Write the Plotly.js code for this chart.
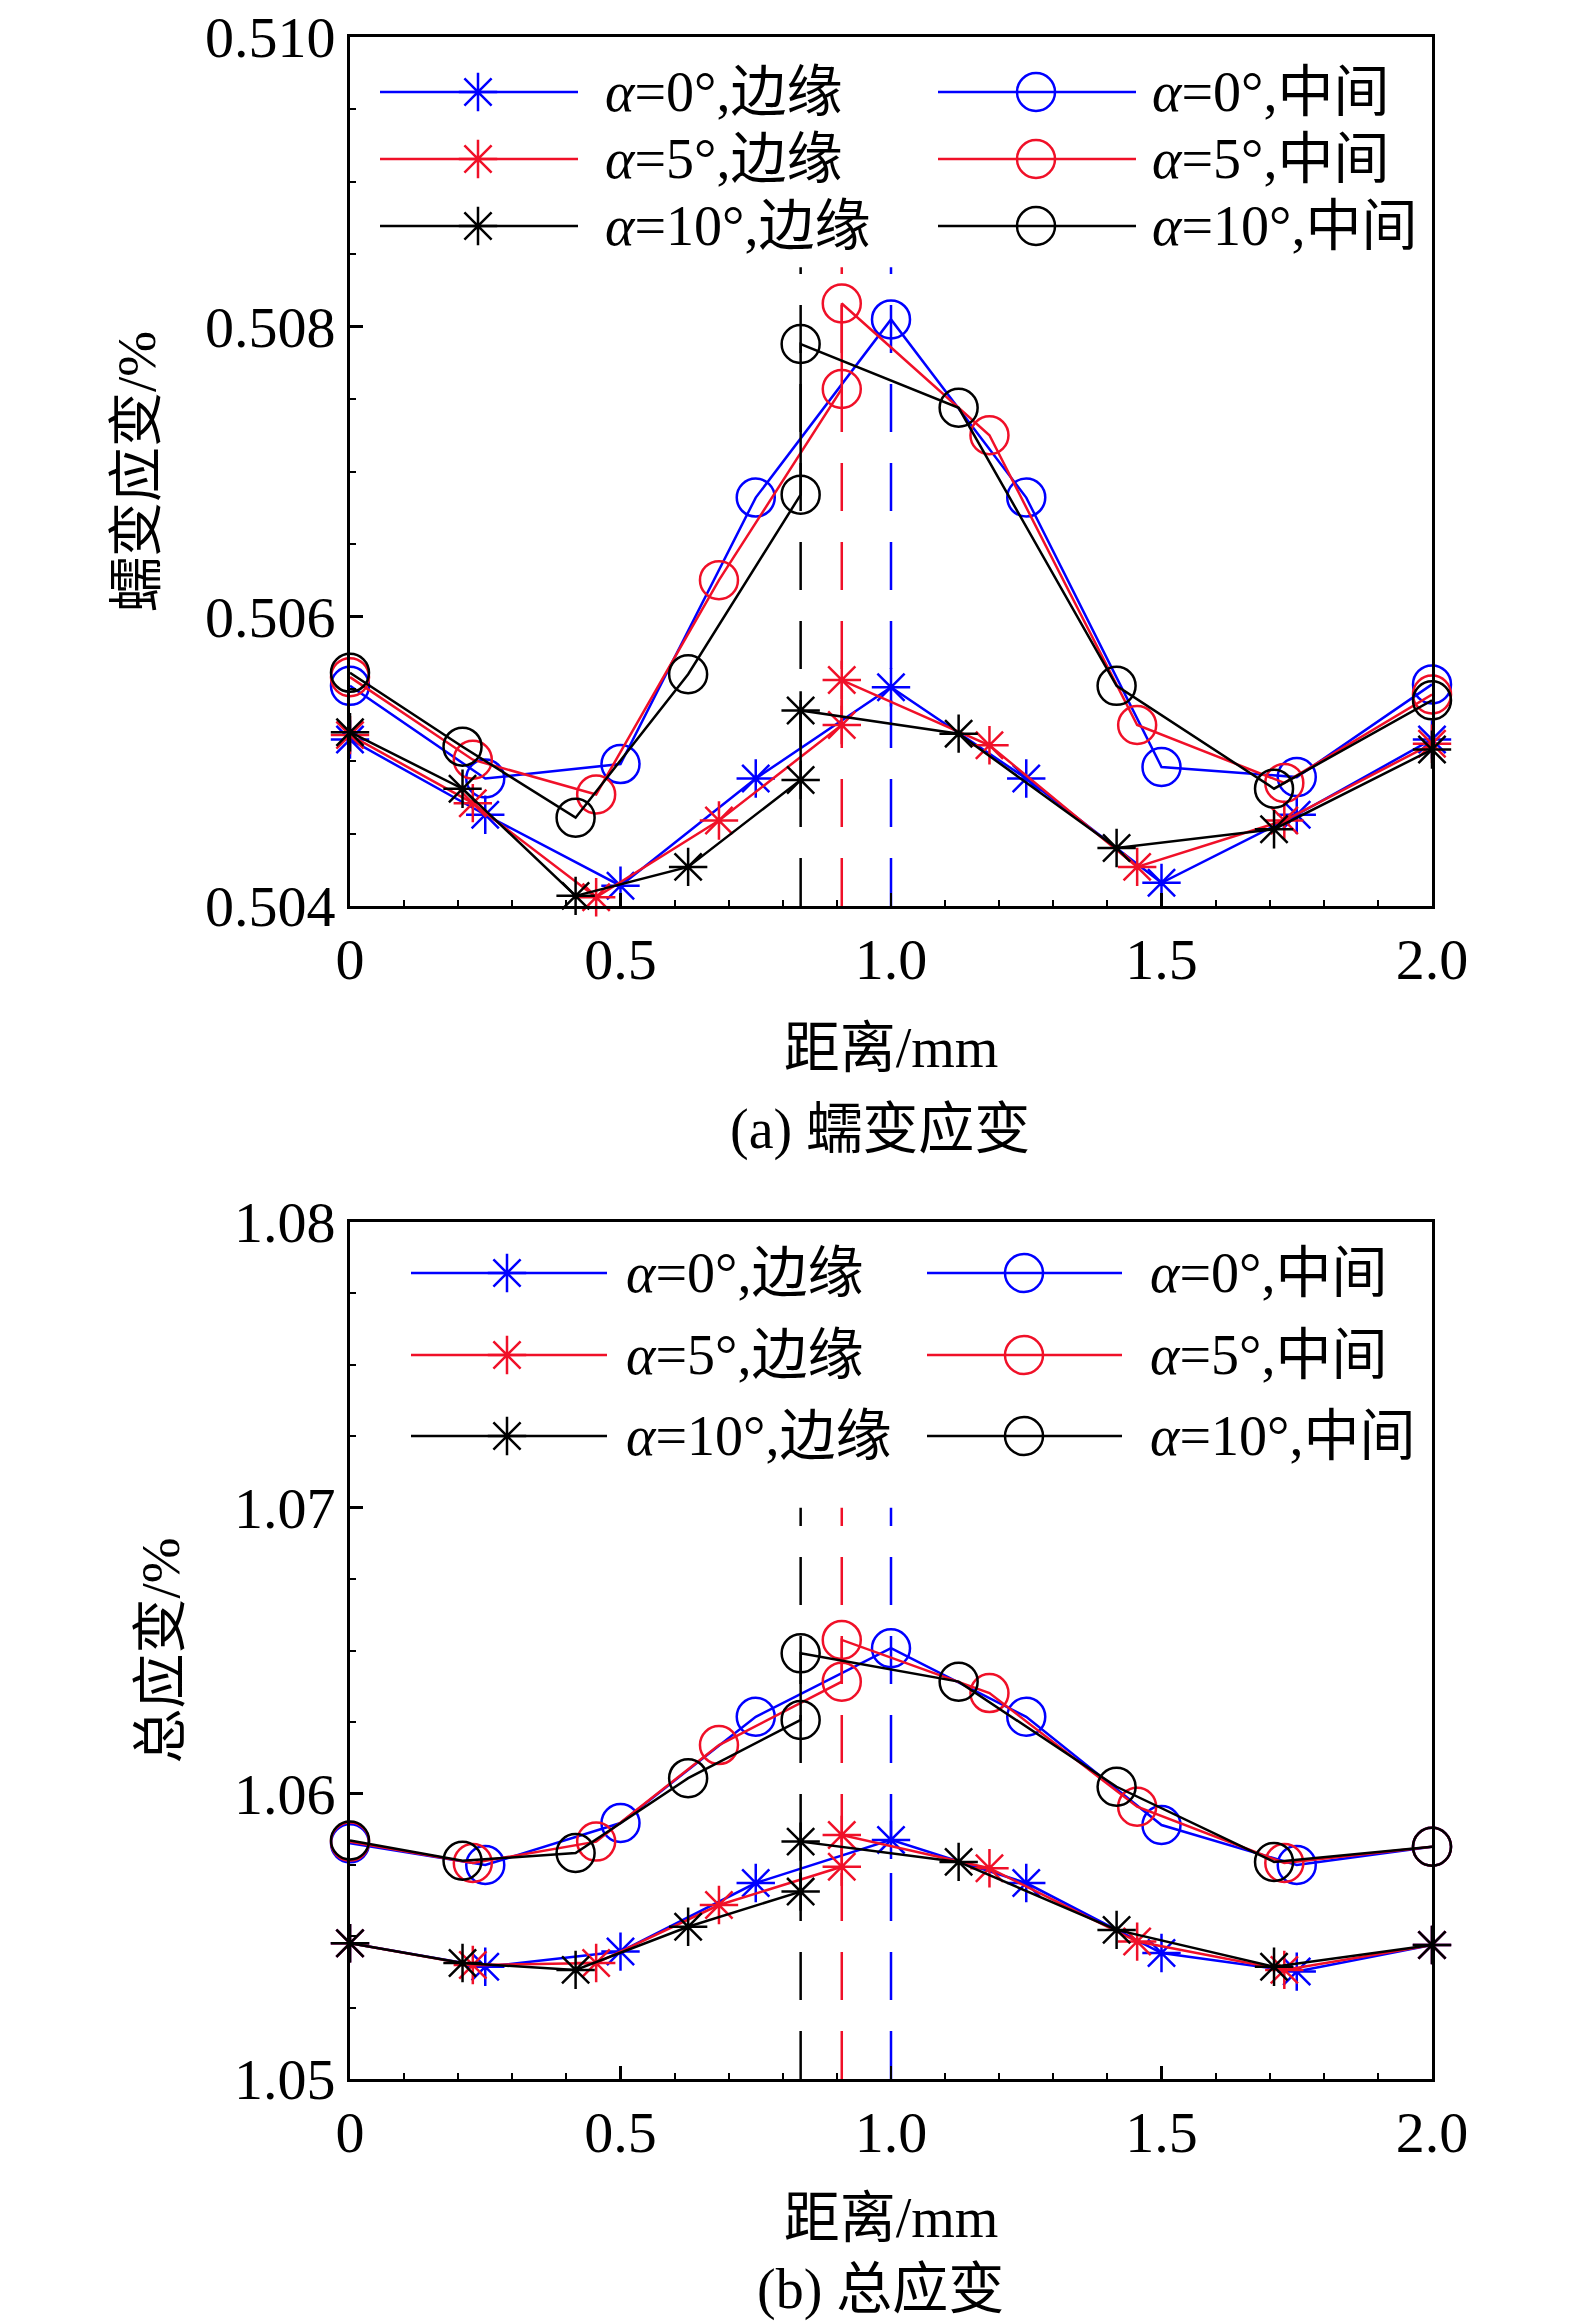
<!DOCTYPE html>
<html>
<head>
<meta charset="utf-8">
<script src="https://cdn.plot.ly/plotly-3.0.1.min.js"></script>
<style>
  html, body { margin: 0; padding: 0; background: #ffffff; }
  #chart { width: 1575px; height: 2324px; }
</style>
</head>
<body>
<div id="chart"></div>
<script>
// x positions of the sampling points for each angle
var x0 = [0, 0.25, 0.5, 0.75, 1.0, 1.25, 1.5, 1.75, 2.0];
var x5 = [0, 0.227, 0.455, 0.682, 0.909, 0.909, 1.182, 1.455, 1.727, 2.0];
var x10 = [0, 0.208, 0.417, 0.625, 0.833, 0.833, 1.125, 1.417, 1.708, 2.0];

// (a) creep strain, %
var creepEdge0 = [0.50515, 0.50463, 0.50414, 0.50488, 0.50551, 0.50488, 0.50416, 0.50463, 0.50515];
var creepMid0 = [0.50552, 0.50488, 0.50498, 0.50682, 0.50805, 0.50682, 0.50496, 0.50489, 0.50553];
var creepEdge5 = [0.50518, 0.50471, 0.50406, 0.50459, 0.50525, 0.50556, 0.50511, 0.50427, 0.50459, 0.50512];
var creepMid5 = [0.50558, 0.50501, 0.50477, 0.50625, 0.50757, 0.50816, 0.50725, 0.50525, 0.50485, 0.50546];
var creepEdge10 = [0.5052, 0.50481, 0.50407, 0.50427, 0.50487, 0.50535, 0.50519, 0.5044, 0.50453, 0.50508];
var creepMid10 = [0.50561, 0.5051, 0.50461, 0.5056, 0.50684, 0.50788, 0.50744, 0.50552, 0.50481, 0.50542];

// (b) total strain, %
var totalEdge0 = [1.05475, 1.05393, 1.05446, 1.05686, 1.05837, 1.05686, 1.05441, 1.05376, 1.05469];
var totalMid0 = [1.05825, 1.05749, 1.05896, 1.06268, 1.06508, 1.06268, 1.05889, 1.05749, 1.05813];
var totalEdge5 = [1.05475, 1.05399, 1.05406, 1.05609, 1.05743, 1.05854, 1.05738, 1.05481, 1.05382, 1.05469];
var totalMid5 = [1.05831, 1.05756, 1.05831, 1.06169, 1.06391, 1.06537, 1.06351, 1.05953, 1.05756, 1.05813];
var totalEdge10 = [1.05475, 1.05406, 1.05382, 1.05533, 1.05656, 1.05831, 1.0576, 1.05522, 1.05393, 1.05469];
var totalMid10 = [1.05835, 1.05764, 1.05791, 1.06053, 1.06257, 1.0649, 1.06391, 1.06023, 1.0576, 1.05813];

// dashed marker lines at the peak positions
var peakX = [0.833, 0.909, 1.0];
var peakCreepY = [0.504, 0.50841];
var peakTotalY = [1.05, 1.07];

var xTickVals = [0, 0.5, 1.0, 1.5, 2.0];
var xTickText = ['0', '0.5', '1.0', '1.5', '2.0'];
var creepTicks = [0.504, 0.506, 0.508, 0.510];
var totalTicks = [1.05, 1.06, 1.07, 1.08];

var angleNames = ['<i>α</i>=0°', '<i>α</i>=5°', '<i>α</i>=10°'];
var edgeName = ',边缘';
var midName = ',中间';

var blue = '#0000ff';
var red = '#f01028';
var black = '#000000';
var angleColors = [blue, red, black];

var FONT = 'Liberation Serif, Times New Roman, Noto Sans CJK SC, serif';
var W = 1575, H = 2324;
var M = {l: 350, r: 143, t: 37, b: 245};
var plotW = W - M.l - M.r, plotH = H - M.t - M.b;
function px2x(p) { return (p - M.l) / plotW; }
function px2y(p) { return (H - M.b - p) / plotH; }

var STAR = 32, RING = 38;

function series(x, y, name, color, symbol, xa, ya) {
  return {
    x: x, y: y, name: name,
    xaxis: xa, yaxis: ya, showlegend: false,
    type: 'scatter', mode: 'lines+markers',
    cliponaxis: false,
    line: {color: color, width: 2.5},
    marker: {symbol: symbol, size: symbol === 'circle-open' ? RING : STAR,
             color: color, line: {color: color, width: 2.5}}
  };
}

function peakLine(px, py, color, xa, ya) {
  return {
    x: [px, px], y: py, xaxis: xa, yaxis: ya,
    type: 'scatter', mode: 'lines', showlegend: false, hoverinfo: 'skip',
    line: {color: color, width: 2.5, dash: '48px,31px'}
  };
}

var data = [];
var peakColors = [black, red, blue];
for (let i = 0; i < peakX.length; i++) {
  data.push(peakLine(peakX[i], peakCreepY, peakColors[i], 'x', 'y'));
  data.push(peakLine(peakX[i], peakTotalY, peakColors[i], 'x2', 'y2'));
}

var creepEdge = [creepEdge0, creepEdge5, creepEdge10];
var creepMid = [creepMid0, creepMid5, creepMid10];
var totalEdge = [totalEdge0, totalEdge5, totalEdge10];
var totalMid = [totalMid0, totalMid5, totalMid10];
var xs = [x0, x5, x10];

for (let i = 0; i < 3; i++) {
  data.push(series(xs[i], creepEdge[i], angleNames[i] + edgeName, angleColors[i], 'asterisk-open', 'x', 'y'));
  data.push(series(xs[i], creepMid[i], angleNames[i] + midName, angleColors[i], 'circle-open', 'x', 'y'));
  data.push(series(xs[i], totalEdge[i], angleNames[i] + edgeName, angleColors[i], 'asterisk-open', 'x2', 'y2'));
  data.push(series(xs[i], totalMid[i], angleNames[i] + midName, angleColors[i], 'circle-open', 'x2', 'y2'));
}

// hand-drawn legend: long sample line, large marker, label
var shapes = [];
var annotations = [];
function asteriskPath(size) {
  var rs = size * 0.6, rt = size * 0.425;
  return 'M0,' + rs + 'V' + (-rs) + 'M' + rs + ',0H' + (-rs) +
         'M' + rt + ',' + rt + 'L' + (-rt) + ',' + (-rt) +
         'M' + rt + ',' + (-rt) + 'L' + (-rt) + ',' + rt;
}
function legendItem(lineX0, lineX1, markX, textX, rowY, color, symbol, label) {
  shapes.push({type: 'line', xref: 'paper', yref: 'paper',
    x0: px2x(lineX0), x1: px2x(lineX1), y0: px2y(rowY), y1: px2y(rowY),
    line: {color: color, width: 2.5}});
  if (symbol === 'circle') {
    shapes.push({type: 'circle', xref: 'paper', yref: 'paper',
      xsizemode: 'pixel', ysizemode: 'pixel', xanchor: px2x(markX), yanchor: px2y(rowY),
      x0: -RING / 2, x1: RING / 2, y0: -RING / 2, y1: RING / 2,
      line: {color: color, width: 2.5}, fillcolor: 'rgba(0,0,0,0)'});
  } else {
    shapes.push({type: 'path', xref: 'paper', yref: 'paper',
      xsizemode: 'pixel', ysizemode: 'pixel', xanchor: px2x(markX), yanchor: px2y(rowY),
      path: asteriskPath(STAR), line: {color: color, width: 2.5}});
  }
  annotations.push({text: label, xref: 'paper', yref: 'paper',
    x: px2x(textX), y: px2y(rowY), xanchor: 'left', yanchor: 'middle',
    showarrow: false, font: {family: FONT, size: 56, color: black}});
}
function legendBlock(rows, col1, col2) {
  for (let i = 0; i < 3; i++) {
    legendItem(col1[0], col1[1], col1[2], col1[3], rows[i], angleColors[i], 'asterisk', angleNames[i] + edgeName);
    legendItem(col2[0], col2[1], col2[2], col2[3], rows[i], angleColors[i], 'circle', angleNames[i] + midName);
  }
}
legendBlock([92, 159, 226], [380, 578, 478, 603], [938, 1136, 1036, 1150]);
legendBlock([1273, 1355, 1436], [411, 607, 507, 624], [927, 1122, 1024, 1148]);

annotations.push({text: '(a) 蠕变应变', xref: 'paper', yref: 'paper', x: px2x(880), y: px2y(1130),
  xanchor: 'center', yanchor: 'middle', showarrow: false,
  font: {family: FONT, size: 56, color: black}});
annotations.push({text: '(b) 总应变', xref: 'paper', yref: 'paper', x: px2x(880), y: px2y(2289),
  xanchor: 'center', yanchor: 'middle', showarrow: false,
  font: {family: FONT, size: 56, color: black}});

function xAxis(anchor, standoff) {
  return {
    anchor: anchor, range: [0, 2],
    tickmode: 'array', tickvals: xTickVals, ticktext: xTickText,
    ticks: 'inside', ticklen: 13, tickwidth: 2.5, tickcolor: black,
    minor: {tickmode: 'linear', tick0: 0, dtick: 0.1, ticks: 'inside', ticklen: 6, tickwidth: 2, tickcolor: black},
    showline: true, linewidth: 3, linecolor: black, mirror: true,
    showgrid: false, zeroline: false, ticklabeloverflow: 'allow',
    tickfont: {family: FONT, size: 58, color: black},
    title: {text: '距离/mm', standoff: standoff, font: {family: FONT, size: 56, color: black}}
  };
}

function yAxis(anchor, domain, range, ticks, minor, fmt, title, standoff) {
  return {
    anchor: anchor, domain: domain, range: range,
    tickmode: 'array', tickvals: ticks, tickformat: fmt,
    ticks: 'inside', ticklen: 13, tickwidth: 2.5, tickcolor: black,
    minor: {tickmode: 'linear', tick0: range[0], dtick: minor, ticks: 'inside', ticklen: 6, tickwidth: 2, tickcolor: black},
    showline: true, linewidth: 3, linecolor: black, mirror: true,
    showgrid: false, zeroline: false, ticklabeloverflow: 'allow',
    tickfont: {family: FONT, size: 58, color: black},
    title: {text: title, standoff: standoff, font: {family: FONT, size: 55, color: black}}
  };
}

var layout = {
  width: W, height: H,
  margin: M,
  paper_bgcolor: '#ffffff', plot_bgcolor: '#ffffff',
  showlegend: false,
  xaxis: xAxis('y', 38),
  yaxis: yAxis('x', [px2y(906), 1], [0.504, 0.510], creepTicks, 0.0005, '.3f', '蠕变应变/%', 32),
  xaxis2: xAxis('y2', 35),
  yaxis2: yAxis('x2', [0, px2y(1222)], [1.05, 1.08], totalTicks, 0.0025, '.2f', '总应变/%', 37),
  shapes: shapes,
  annotations: annotations
};

Plotly.newPlot('chart', data, layout, {displayModeBar: false, staticPlot: true});
</script>
</body>
</html>
